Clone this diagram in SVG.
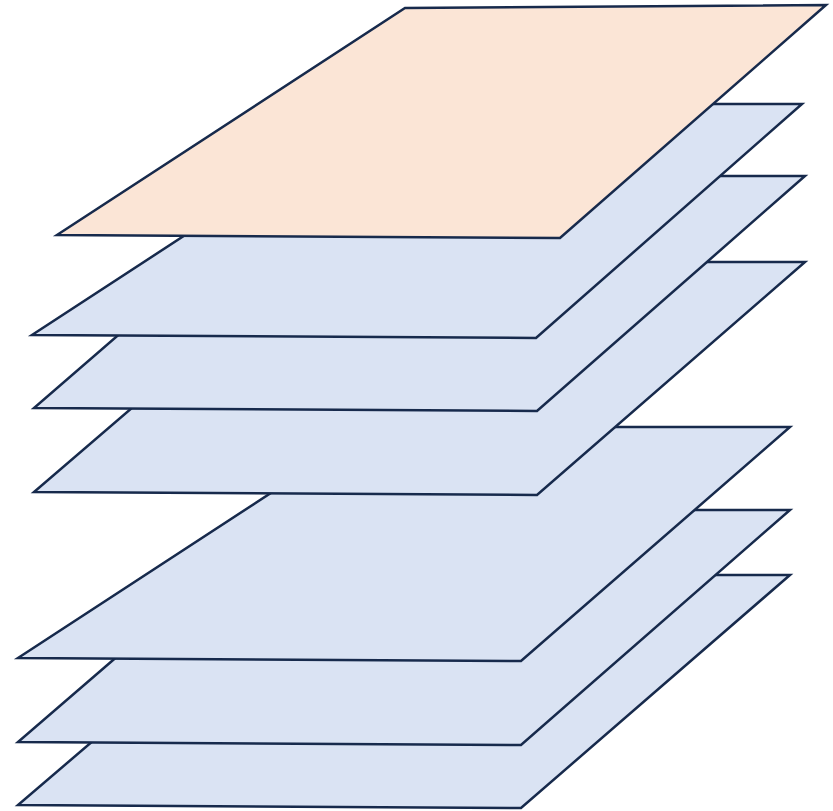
<svg xmlns="http://www.w3.org/2000/svg" width="833" height="811" viewBox="0 0 833 811">
<style>
.l{fill:#dae3f3;stroke:#172a4c;stroke-width:2.5;stroke-linejoin:miter}
.t{fill:#fbe5d6;stroke:#172a4c;stroke-width:2.5;stroke-linejoin:miter}
</style>
<rect width="833" height="811" fill="#ffffff"/>
<g id="layer7"><polygon class="l" points="287,575 790,575 521,808 18,805"/></g>
<g id="layer6"><polygon class="l" points="287,510 790,510 521,745 18,742"/></g>
<g id="layer5"><polygon class="l" points="372,427 790,427 521,661 18,658"/></g>
<g id="layer4"><polygon class="l" points="302,262 805,262 537,495 34,492"/></g>
<g id="layer3"><polygon class="l" points="302,176 805,176 537,411 34,408"/></g>
<g id="layer2"><polygon class="l" points="386,104 802,104 536,338 32,335"/></g>
<g id="top"><polygon class="t" points="405,8 826,5 560,238 57,235"/></g>
</svg>
